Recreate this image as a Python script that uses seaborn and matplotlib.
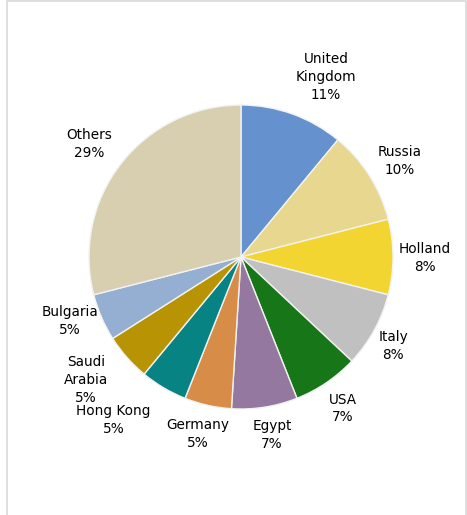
import matplotlib
matplotlib.use("Agg")
import matplotlib.pyplot as plt
from matplotlib.patches import Rectangle
import numpy as np
import seaborn as sns

# Share of total by country (percent), clockwise from 12 o'clock
countries = ["United\nKingdom", "Russia", "Holland", "Italy", "USA", "Egypt",
             "Germany", "Hong Kong", "Saudi\nArabia", "Bulgaria", "Others"]
shares = [11, 10, 8, 8, 7, 7, 5, 5, 5, 5, 29]
slice_colors = ["#6592CE", "#E7D78F", "#F2D530", "#C0C0C0", "#177718", "#94789F",
                "#D78C48", "#088383", "#B89405", "#95AFD2", "#D8CFB0"]
# label placement: distance from centre (pie radii) and angular nudge (degrees, clockwise)
label_dist = [1.31, 1.22, 1.21, 1.16, 1.20, 1.19, 1.20, 1.36, 1.30, 1.20, 1.245]
label_nudge = [5.5, 1.1, 0.3, 1.6, 0.4, -0.9, 1.1, 7.5, 3.0, 2.9, -1.2]

sns.set_theme(style="white")
plt.rcParams["font.family"] = ["DejaVu Sans"]
palette = sns.color_palette(slice_colors)

W, H = 467, 515
fig = plt.figure(figsize=(W / 100, H / 100), dpi=100)
fig.patch.set_facecolor("white")

# light frame around the chart area
fig.patches.append(Rectangle((6.5 / W, -0.05), (466 - 6.5) / W, 1.05 - 0.5 / H,
                             transform=fig.transFigure, fill=False,
                             edgecolor="#D9D9D9", linewidth=1.2))

R_PX = 152
cx, cy = 241, H - 257
half = 1.5
side = 2 * half * R_PX
ax = fig.add_axes([(cx - side / 2) / W, (cy - side / 2) / H, side / W, side / H])

wedges, _ = ax.pie(shares, colors=palette, startangle=90, counterclock=False,
                   radius=1.0,
                   wedgeprops=dict(edgecolor="#F2F2F2", linewidth=1.0))

for w, name, val, d, nudge in zip(wedges, countries, shares, label_dist, label_nudge):
    mid = np.deg2rad((w.theta1 + w.theta2) / 2 - nudge)
    ax.text(d * np.cos(mid), d * np.sin(mid), f"{name}\n{val}%",
            ha="center", va="center", fontsize=9.8, color="black",
            linespacing=1.35)

ax.set_xlim(-half, half)
ax.set_ylim(-half, half)
ax.set_aspect("equal")
ax.axis("off")

fig.savefig("out.png", dpi=100)
